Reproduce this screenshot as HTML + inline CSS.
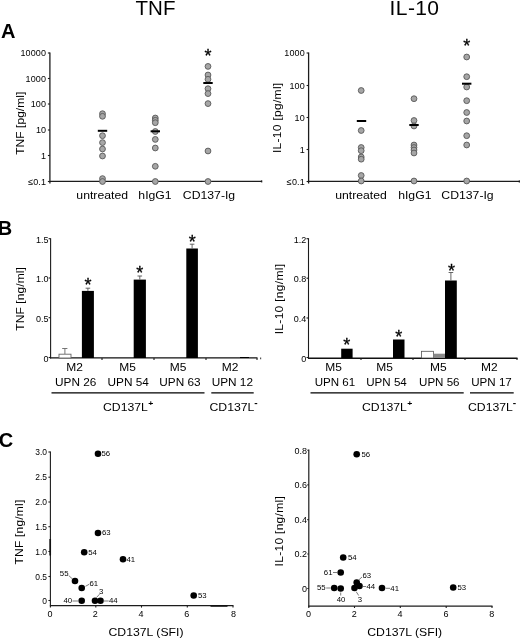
<!DOCTYPE html>
<html><head><meta charset="utf-8"><title>Figure</title>
<style>html,body{margin:0;padding:0;background:#fff;}svg{display:block;will-change:transform;}text{font-family:"Liberation Sans",sans-serif;}</style>
</head><body>
<svg width="520" height="638" viewBox="0 0 520 638">
<rect width="520" height="638" fill="#fff"/>
<text x="155.5" y="15" font-size="20.5" text-anchor="middle" font-weight="normal" fill="#000" >TNF</text>
<text x="414.5" y="15" font-size="21" text-anchor="middle" font-weight="normal" fill="#000" letter-spacing="0.4">IL-10</text>
<text x="0.9" y="38.3" font-size="20" text-anchor="start" font-weight="bold" fill="#000" >A</text>
<text x="-2.3" y="234.9" font-size="20" text-anchor="start" font-weight="bold" fill="#000" >B</text>
<text x="-1.2" y="447.1" font-size="20" text-anchor="start" font-weight="bold" fill="#000" >C</text>
<line x1="49.9" y1="52.5" x2="49.9" y2="183.5" stroke="#1c1c1c" stroke-width="1.3"/>
<line x1="49.9" y1="181.3" x2="262" y2="181.3" stroke="#1c1c1c" stroke-width="1.2"/>
<line x1="261.6" y1="180.4" x2="261.6" y2="182.4" stroke="#1c1c1c" stroke-width="1.4"/>
<line x1="47.9" y1="53" x2="49.9" y2="53" stroke="#1c1c1c" stroke-width="1.1"/>
<text x="46.199999999999996" y="56.4" font-size="9" text-anchor="end" font-weight="normal" fill="#000" letter-spacing="0.15">10000</text>
<line x1="47.9" y1="78.5" x2="49.9" y2="78.5" stroke="#1c1c1c" stroke-width="1.1"/>
<text x="46.199999999999996" y="81.9" font-size="9" text-anchor="end" font-weight="normal" fill="#000" letter-spacing="0.15">1000</text>
<line x1="47.9" y1="104" x2="49.9" y2="104" stroke="#1c1c1c" stroke-width="1.1"/>
<text x="46.199999999999996" y="107.4" font-size="9" text-anchor="end" font-weight="normal" fill="#000" letter-spacing="0.15">100</text>
<line x1="47.9" y1="130" x2="49.9" y2="130" stroke="#1c1c1c" stroke-width="1.1"/>
<text x="46.199999999999996" y="133.4" font-size="9" text-anchor="end" font-weight="normal" fill="#000" letter-spacing="0.15">10</text>
<line x1="47.9" y1="155.5" x2="49.9" y2="155.5" stroke="#1c1c1c" stroke-width="1.1"/>
<text x="46.199999999999996" y="158.9" font-size="9" text-anchor="end" font-weight="normal" fill="#000" letter-spacing="0.15">1</text>
<line x1="47.9" y1="181.5" x2="49.9" y2="181.5" stroke="#1c1c1c" stroke-width="1.1"/>
<text x="46.199999999999996" y="184.9" font-size="9" text-anchor="end" font-weight="normal" fill="#000" letter-spacing="0.15">≤0.1</text>
<text transform="translate(23.9,123.2) rotate(-90) scale(1,0.9)" font-size="12" letter-spacing="0.05" text-anchor="middle" fill="#000">TNF [pg/ml]</text>
<circle cx="102.5" cy="113.7" r="2.9" fill="#a6a6a6" stroke="#585858" stroke-width="0.9"/>
<circle cx="102.5" cy="116.3" r="2.9" fill="#a6a6a6" stroke="#585858" stroke-width="0.9"/>
<circle cx="102.5" cy="135.7" r="2.9" fill="#a6a6a6" stroke="#585858" stroke-width="0.9"/>
<circle cx="102.5" cy="142.6" r="2.9" fill="#a6a6a6" stroke="#585858" stroke-width="0.9"/>
<circle cx="102.5" cy="149" r="2.9" fill="#a6a6a6" stroke="#585858" stroke-width="0.9"/>
<circle cx="102.5" cy="156" r="2.9" fill="#a6a6a6" stroke="#585858" stroke-width="0.9"/>
<circle cx="102.5" cy="178.6" r="2.9" fill="#a6a6a6" stroke="#585858" stroke-width="0.9"/>
<circle cx="102.5" cy="181.5" r="2.9" fill="#a6a6a6" stroke="#585858" stroke-width="0.9"/>
<line x1="97.8" y1="130.8" x2="107.2" y2="130.8" stroke="#000" stroke-width="2"/>
<circle cx="155.3" cy="118" r="2.9" fill="#a6a6a6" stroke="#585858" stroke-width="0.9"/>
<circle cx="155.3" cy="120.3" r="2.9" fill="#a6a6a6" stroke="#585858" stroke-width="0.9"/>
<circle cx="155.3" cy="122.7" r="2.9" fill="#a6a6a6" stroke="#585858" stroke-width="0.9"/>
<circle cx="155.3" cy="131.5" r="2.9" fill="#a6a6a6" stroke="#585858" stroke-width="0.9"/>
<circle cx="155.3" cy="139.4" r="2.9" fill="#a6a6a6" stroke="#585858" stroke-width="0.9"/>
<circle cx="155.3" cy="148" r="2.9" fill="#a6a6a6" stroke="#585858" stroke-width="0.9"/>
<circle cx="155.3" cy="166.3" r="2.9" fill="#a6a6a6" stroke="#585858" stroke-width="0.9"/>
<circle cx="155.3" cy="181.5" r="2.9" fill="#a6a6a6" stroke="#585858" stroke-width="0.9"/>
<line x1="150.60000000000002" y1="131.3" x2="160.0" y2="131.3" stroke="#000" stroke-width="2"/>
<circle cx="208" cy="66.4" r="2.9" fill="#a6a6a6" stroke="#585858" stroke-width="0.9"/>
<circle cx="208" cy="75" r="2.9" fill="#a6a6a6" stroke="#585858" stroke-width="0.9"/>
<circle cx="208" cy="79.3" r="2.9" fill="#a6a6a6" stroke="#585858" stroke-width="0.9"/>
<circle cx="208" cy="88.7" r="2.9" fill="#a6a6a6" stroke="#585858" stroke-width="0.9"/>
<circle cx="208" cy="93.6" r="2.9" fill="#a6a6a6" stroke="#585858" stroke-width="0.9"/>
<circle cx="208" cy="103.6" r="2.9" fill="#a6a6a6" stroke="#585858" stroke-width="0.9"/>
<circle cx="208" cy="151" r="2.9" fill="#a6a6a6" stroke="#585858" stroke-width="0.9"/>
<circle cx="208" cy="181.5" r="2.9" fill="#a6a6a6" stroke="#585858" stroke-width="0.9"/>
<line x1="203.3" y1="83" x2="212.7" y2="83" stroke="#000" stroke-width="2"/>
<text x="208.1" y="61.56" font-size="18" text-anchor="middle" font-weight="normal" fill="#000" stroke="#000" stroke-width="0.3">*</text>
<text transform="translate(102.2,198.7) scale(1.02,0.92)" font-size="12" text-anchor="middle" font-weight="normal" fill="#000" >untreated</text>
<text transform="translate(155,198.7) scale(1.02,0.92)" font-size="12" text-anchor="middle" font-weight="normal" fill="#000" >hIgG1</text>
<text transform="translate(209,198.7) scale(1.02,0.92)" font-size="12" text-anchor="middle" font-weight="normal" fill="#000" >CD137-Ig</text>
<line x1="308.6" y1="52.5" x2="308.6" y2="183.5" stroke="#1c1c1c" stroke-width="1.3"/>
<line x1="308.6" y1="181.4" x2="520" y2="181.4" stroke="#1c1c1c" stroke-width="1.2"/>
<line x1="519.4" y1="180.4" x2="519.4" y2="182.4" stroke="#1c1c1c" stroke-width="1.4"/>
<line x1="306.6" y1="53" x2="308.6" y2="53" stroke="#1c1c1c" stroke-width="1.1"/>
<text x="304.90000000000003" y="56.4" font-size="9" text-anchor="end" font-weight="normal" fill="#000" letter-spacing="0.15">1000</text>
<line x1="306.6" y1="85.5" x2="308.6" y2="85.5" stroke="#1c1c1c" stroke-width="1.1"/>
<text x="304.90000000000003" y="88.9" font-size="9" text-anchor="end" font-weight="normal" fill="#000" letter-spacing="0.15">100</text>
<line x1="306.6" y1="117.5" x2="308.6" y2="117.5" stroke="#1c1c1c" stroke-width="1.1"/>
<text x="304.90000000000003" y="120.9" font-size="9" text-anchor="end" font-weight="normal" fill="#000" letter-spacing="0.15">10</text>
<line x1="306.6" y1="149.5" x2="308.6" y2="149.5" stroke="#1c1c1c" stroke-width="1.1"/>
<text x="304.90000000000003" y="152.9" font-size="9" text-anchor="end" font-weight="normal" fill="#000" letter-spacing="0.15">1</text>
<line x1="306.6" y1="181.5" x2="308.6" y2="181.5" stroke="#1c1c1c" stroke-width="1.1"/>
<text x="304.90000000000003" y="184.9" font-size="9" text-anchor="end" font-weight="normal" fill="#000" letter-spacing="0.15">≤0.1</text>
<text transform="translate(281.1,117.8) rotate(-90) scale(1,0.9)" font-size="12" letter-spacing="0.3" text-anchor="middle" fill="#000">IL-10 [pg/ml]</text>
<circle cx="361.2" cy="90.5" r="2.9" fill="#a6a6a6" stroke="#585858" stroke-width="0.9"/>
<circle cx="361.2" cy="130.5" r="2.9" fill="#a6a6a6" stroke="#585858" stroke-width="0.9"/>
<circle cx="361.2" cy="147.5" r="2.9" fill="#a6a6a6" stroke="#585858" stroke-width="0.9"/>
<circle cx="361.2" cy="150.7" r="2.9" fill="#a6a6a6" stroke="#585858" stroke-width="0.9"/>
<circle cx="361.2" cy="157" r="2.9" fill="#a6a6a6" stroke="#585858" stroke-width="0.9"/>
<circle cx="361.2" cy="159.2" r="2.9" fill="#a6a6a6" stroke="#585858" stroke-width="0.9"/>
<circle cx="361.2" cy="175.5" r="2.9" fill="#a6a6a6" stroke="#585858" stroke-width="0.9"/>
<circle cx="361.2" cy="181" r="2.9" fill="#a6a6a6" stroke="#585858" stroke-width="0.9"/>
<line x1="356.8" y1="121" x2="366.2" y2="121" stroke="#000" stroke-width="2"/>
<circle cx="414" cy="98.7" r="2.9" fill="#a6a6a6" stroke="#585858" stroke-width="0.9"/>
<circle cx="414" cy="120.5" r="2.9" fill="#a6a6a6" stroke="#585858" stroke-width="0.9"/>
<circle cx="414" cy="126" r="2.9" fill="#a6a6a6" stroke="#585858" stroke-width="0.9"/>
<circle cx="414" cy="145" r="2.9" fill="#a6a6a6" stroke="#585858" stroke-width="0.9"/>
<circle cx="414" cy="147.5" r="2.9" fill="#a6a6a6" stroke="#585858" stroke-width="0.9"/>
<circle cx="414" cy="150" r="2.9" fill="#a6a6a6" stroke="#585858" stroke-width="0.9"/>
<circle cx="414" cy="153" r="2.9" fill="#a6a6a6" stroke="#585858" stroke-width="0.9"/>
<circle cx="414" cy="181" r="2.9" fill="#a6a6a6" stroke="#585858" stroke-width="0.9"/>
<line x1="409.3" y1="125" x2="418.7" y2="125" stroke="#000" stroke-width="2"/>
<circle cx="466.7" cy="57" r="2.9" fill="#a6a6a6" stroke="#585858" stroke-width="0.9"/>
<circle cx="466.7" cy="76.7" r="2.9" fill="#a6a6a6" stroke="#585858" stroke-width="0.9"/>
<circle cx="466.7" cy="87" r="2.9" fill="#a6a6a6" stroke="#585858" stroke-width="0.9"/>
<circle cx="466.7" cy="100.7" r="2.9" fill="#a6a6a6" stroke="#585858" stroke-width="0.9"/>
<circle cx="466.7" cy="112.5" r="2.9" fill="#a6a6a6" stroke="#585858" stroke-width="0.9"/>
<circle cx="466.7" cy="121" r="2.9" fill="#a6a6a6" stroke="#585858" stroke-width="0.9"/>
<circle cx="466.7" cy="135.7" r="2.9" fill="#a6a6a6" stroke="#585858" stroke-width="0.9"/>
<circle cx="466.7" cy="145" r="2.9" fill="#a6a6a6" stroke="#585858" stroke-width="0.9"/>
<circle cx="466.7" cy="181" r="2.9" fill="#a6a6a6" stroke="#585858" stroke-width="0.9"/>
<line x1="462.0" y1="83.7" x2="471.4" y2="83.7" stroke="#000" stroke-width="2"/>
<text x="466.7" y="52.36" font-size="18" text-anchor="middle" font-weight="normal" fill="#000" stroke="#000" stroke-width="0.3">*</text>
<text transform="translate(361,198.7) scale(1.02,0.92)" font-size="12" text-anchor="middle" font-weight="normal" fill="#000" >untreated</text>
<text transform="translate(414.8,198.7) scale(1.02,0.92)" font-size="12" text-anchor="middle" font-weight="normal" fill="#000" >hIgG1</text>
<text transform="translate(467.5,198.7) scale(1.02,0.92)" font-size="12" text-anchor="middle" font-weight="normal" fill="#000" >CD137-Ig</text>
<line x1="50.6" y1="238.2" x2="50.6" y2="358.5" stroke="#1c1c1c" stroke-width="1.1"/>
<line x1="50.1" y1="357.9" x2="257.5" y2="357.9" stroke="#111" stroke-width="1.4"/>
<line x1="48.6" y1="238.7" x2="50.6" y2="238.7" stroke="#1c1c1c" stroke-width="1.1"/>
<text x="48.4" y="242.7" font-size="9" text-anchor="end" font-weight="normal" fill="#000" >1.5</text>
<line x1="48.6" y1="278" x2="50.6" y2="278" stroke="#1c1c1c" stroke-width="1.1"/>
<text x="48.4" y="282.0" font-size="9" text-anchor="end" font-weight="normal" fill="#000" >1.0</text>
<line x1="48.6" y1="317.7" x2="50.6" y2="317.7" stroke="#1c1c1c" stroke-width="1.1"/>
<text x="48.4" y="321.7" font-size="9" text-anchor="end" font-weight="normal" fill="#000" >0.5</text>
<line x1="48.6" y1="357.5" x2="50.6" y2="357.5" stroke="#1c1c1c" stroke-width="1.1"/>
<text x="48.4" y="361.5" font-size="9" text-anchor="end" font-weight="normal" fill="#000" >0</text>
<text transform="translate(23.7,298.8) rotate(-90) scale(1,0.9)" font-size="12" letter-spacing="0.1" text-anchor="middle" fill="#000">TNF [ng/ml]</text>
<line x1="102" y1="358" x2="102" y2="360" stroke="#1c1c1c" stroke-width="1.1"/>
<line x1="154" y1="358" x2="154" y2="360" stroke="#1c1c1c" stroke-width="1.1"/>
<line x1="206" y1="358" x2="206" y2="360" stroke="#1c1c1c" stroke-width="1.1"/>
<line x1="257" y1="358" x2="257" y2="360" stroke="#1c1c1c" stroke-width="1.1"/>
<rect x="59" y="354.2" width="12" height="3.8" fill="#fff" stroke="#666" stroke-width="0.9"/>
<line x1="64.9" y1="348.5" x2="64.9" y2="354" stroke="#666" stroke-width="0.9"/>
<line x1="62.2" y1="348.5" x2="67.4" y2="348.5" stroke="#666" stroke-width="0.9"/>
<rect x="81.9" y="290.9" width="12" height="67.10000000000002" fill="#000"/>
<line x1="87.9" y1="288.2" x2="87.9" y2="290.9" stroke="#555" stroke-width="0.9"/>
<line x1="85.60000000000001" y1="288.2" x2="90.2" y2="288.2" stroke="#555" stroke-width="0.9"/>
<rect x="133.7" y="279.6" width="12.2" height="78.39999999999998" fill="#000"/>
<line x1="139.79999999999998" y1="276" x2="139.79999999999998" y2="279.6" stroke="#555" stroke-width="0.9"/>
<line x1="137.49999999999997" y1="276" x2="142.1" y2="276" stroke="#555" stroke-width="0.9"/>
<rect x="186.3" y="248.5" width="11.6" height="109.5" fill="#000"/>
<line x1="192.10000000000002" y1="244.2" x2="192.10000000000002" y2="248.5" stroke="#555" stroke-width="0.9"/>
<line x1="189.8" y1="244.2" x2="194.40000000000003" y2="244.2" stroke="#555" stroke-width="0.9"/>
<rect x="240" y="357" width="9" height="1" fill="#000"/>
<line x1="260.6" y1="357.6" x2="260.6" y2="359.2" stroke="#555" stroke-width="1.2"/>
<text x="87.9" y="291.26" font-size="18" text-anchor="middle" font-weight="normal" fill="#000" stroke="#000" stroke-width="0.3">*</text>
<text x="139.8" y="279.46000000000004" font-size="18" text-anchor="middle" font-weight="normal" fill="#000" stroke="#000" stroke-width="0.3">*</text>
<text x="192.2" y="248.36" font-size="18" text-anchor="middle" font-weight="normal" fill="#000" stroke="#000" stroke-width="0.3">*</text>
<text transform="translate(74.7,370.8) scale(1.0,0.92)" font-size="12" text-anchor="middle" font-weight="normal" fill="#000" >M2</text>
<text transform="translate(75.7,385.7) scale(0.985,0.92)" font-size="12" text-anchor="middle" font-weight="normal" fill="#000" >UPN 26</text>
<text transform="translate(127.7,370.8) scale(1.0,0.92)" font-size="12" text-anchor="middle" font-weight="normal" fill="#000" >M5</text>
<text transform="translate(128.2,385.7) scale(0.985,0.92)" font-size="12" text-anchor="middle" font-weight="normal" fill="#000" >UPN 54</text>
<text transform="translate(178.2,370.8) scale(1.0,0.92)" font-size="12" text-anchor="middle" font-weight="normal" fill="#000" >M5</text>
<text transform="translate(180.0,385.7) scale(0.985,0.92)" font-size="12" text-anchor="middle" font-weight="normal" fill="#000" >UPN 63</text>
<text transform="translate(230.1,370.8) scale(1.0,0.92)" font-size="12" text-anchor="middle" font-weight="normal" fill="#000" >M2</text>
<text transform="translate(232.3,385.7) scale(0.985,0.92)" font-size="12" text-anchor="middle" font-weight="normal" fill="#000" >UPN 12</text>
<line x1="51.5" y1="392.8" x2="204.5" y2="392.8" stroke="#000" stroke-width="1.3"/>
<line x1="211.3" y1="392.8" x2="253.7" y2="392.8" stroke="#000" stroke-width="1.3"/>
<text transform="translate(103,411) scale(1.02,0.92)" font-size="12" text-anchor="start" font-weight="normal" fill="#000" >CD137L<tspan dy="-5" dx="0.3" font-size="8.5" font-weight="bold">+</tspan></text>
<text transform="translate(209.5,411) scale(1.02,0.92)" font-size="12" text-anchor="start" font-weight="normal" fill="#000" >CD137L<tspan dy="-5.5" font-size="10" font-weight="bold">-</tspan></text>
<line x1="308.5" y1="238.2" x2="308.5" y2="358.8" stroke="#1c1c1c" stroke-width="1.1"/>
<line x1="308.0" y1="358.3" x2="517.5" y2="358.3" stroke="#111" stroke-width="1.4"/>
<line x1="306.5" y1="238.7" x2="308.5" y2="238.7" stroke="#1c1c1c" stroke-width="1.1"/>
<text x="306.3" y="242.7" font-size="9" text-anchor="end" font-weight="normal" fill="#000" >1.2</text>
<line x1="306.5" y1="278.2" x2="308.5" y2="278.2" stroke="#1c1c1c" stroke-width="1.1"/>
<text x="306.3" y="282.2" font-size="9" text-anchor="end" font-weight="normal" fill="#000" >0.8</text>
<line x1="306.5" y1="318" x2="308.5" y2="318" stroke="#1c1c1c" stroke-width="1.1"/>
<text x="306.3" y="322.0" font-size="9" text-anchor="end" font-weight="normal" fill="#000" >0.4</text>
<line x1="306.5" y1="357.5" x2="308.5" y2="357.5" stroke="#1c1c1c" stroke-width="1.1"/>
<text x="306.3" y="361.5" font-size="9" text-anchor="end" font-weight="normal" fill="#000" >0</text>
<text transform="translate(283,299) rotate(-90) scale(1,0.9)" font-size="12" letter-spacing="0.3" text-anchor="middle" fill="#000">IL-10 [ng/ml]</text>
<line x1="361" y1="358" x2="361" y2="360" stroke="#1c1c1c" stroke-width="1.1"/>
<line x1="413" y1="358" x2="413" y2="360" stroke="#1c1c1c" stroke-width="1.1"/>
<line x1="465" y1="358" x2="465" y2="360" stroke="#1c1c1c" stroke-width="1.1"/>
<line x1="517" y1="358" x2="517" y2="360" stroke="#1c1c1c" stroke-width="1.1"/>
<rect x="341.2" y="348.7" width="11.4" height="9.300000000000011" fill="#000"/>
<rect x="393" y="339.5" width="11.5" height="18.5" fill="#000"/>
<rect x="445" y="280.5" width="11.8" height="77.5" fill="#000"/>
<line x1="450.9" y1="272.5" x2="450.9" y2="280.5" stroke="#555" stroke-width="0.9"/>
<line x1="448.59999999999997" y1="272.5" x2="453.2" y2="272.5" stroke="#555" stroke-width="0.9"/>
<rect x="421.5" y="351.3" width="12" height="6.7" fill="#fff" stroke="#555" stroke-width="0.8"/>
<rect x="433.7" y="353.7" width="11.3" height="4.3" fill="#8a8a8a"/>
<text x="346.7" y="351.36" font-size="18" text-anchor="middle" font-weight="normal" fill="#000" stroke="#000" stroke-width="0.3">*</text>
<text x="398.8" y="342.56" font-size="18" text-anchor="middle" font-weight="normal" fill="#000" stroke="#000" stroke-width="0.3">*</text>
<text x="451.5" y="276.66" font-size="18" text-anchor="middle" font-weight="normal" fill="#000" stroke="#000" stroke-width="0.3">*</text>
<text transform="translate(333.7,370.8) scale(1.0,0.92)" font-size="12" text-anchor="middle" font-weight="normal" fill="#000" >M5</text>
<text transform="translate(334.9,385.7) scale(0.965,0.92)" font-size="12" text-anchor="middle" font-weight="normal" fill="#000" >UPN 61</text>
<text transform="translate(384.6,370.8) scale(1.0,0.92)" font-size="12" text-anchor="middle" font-weight="normal" fill="#000" >M5</text>
<text transform="translate(386.5,385.7) scale(0.965,0.92)" font-size="12" text-anchor="middle" font-weight="normal" fill="#000" >UPN 54</text>
<text transform="translate(438.4,370.8) scale(1.0,0.92)" font-size="12" text-anchor="middle" font-weight="normal" fill="#000" >M5</text>
<text transform="translate(439.3,385.7) scale(0.965,0.92)" font-size="12" text-anchor="middle" font-weight="normal" fill="#000" >UPN 56</text>
<text transform="translate(489.4,370.8) scale(1.0,0.92)" font-size="12" text-anchor="middle" font-weight="normal" fill="#000" >M2</text>
<text transform="translate(491.5,385.7) scale(0.965,0.92)" font-size="12" text-anchor="middle" font-weight="normal" fill="#000" >UPN 17</text>
<line x1="310.5" y1="392.8" x2="463.7" y2="392.8" stroke="#000" stroke-width="1.3"/>
<line x1="470" y1="392.8" x2="513.7" y2="392.8" stroke="#000" stroke-width="1.3"/>
<text transform="translate(362,411) scale(1.02,0.92)" font-size="12" text-anchor="start" font-weight="normal" fill="#000" >CD137L<tspan dy="-5" dx="0.3" font-size="8.5" font-weight="bold">+</tspan></text>
<text transform="translate(468,411) scale(1.02,0.92)" font-size="12" text-anchor="start" font-weight="normal" fill="#000" >CD137L<tspan dy="-5.5" font-size="10" font-weight="bold">-</tspan></text>
<line x1="50.4" y1="451.5" x2="50.4" y2="606.2" stroke="#1c1c1c" stroke-width="1.1"/>
<line x1="49.9" y1="605.7" x2="233.5" y2="605.7" stroke="#1c1c1c" stroke-width="1.2"/>
<line x1="48.4" y1="452" x2="50.4" y2="452" stroke="#1c1c1c" stroke-width="1.1"/>
<text transform="translate(47.0,455.2) scale(0.94,1.03)" font-size="9" text-anchor="end" font-weight="normal" fill="#000" >3.0</text>
<line x1="48.4" y1="477.2" x2="50.4" y2="477.2" stroke="#1c1c1c" stroke-width="1.1"/>
<text transform="translate(47.0,480.4) scale(0.94,1.03)" font-size="9" text-anchor="end" font-weight="normal" fill="#000" >2.5</text>
<line x1="48.4" y1="502" x2="50.4" y2="502" stroke="#1c1c1c" stroke-width="1.1"/>
<text transform="translate(47.0,505.2) scale(0.94,1.03)" font-size="9" text-anchor="end" font-weight="normal" fill="#000" >2.0</text>
<line x1="48.4" y1="526.7" x2="50.4" y2="526.7" stroke="#1c1c1c" stroke-width="1.1"/>
<text transform="translate(47.0,529.9000000000001) scale(0.94,1.03)" font-size="9" text-anchor="end" font-weight="normal" fill="#000" >1.5</text>
<line x1="48.4" y1="551.5" x2="50.4" y2="551.5" stroke="#1c1c1c" stroke-width="1.1"/>
<text transform="translate(47.0,554.7) scale(0.94,1.03)" font-size="9" text-anchor="end" font-weight="normal" fill="#000" >1.0</text>
<line x1="48.4" y1="576.5" x2="50.4" y2="576.5" stroke="#1c1c1c" stroke-width="1.1"/>
<text transform="translate(47.0,579.7) scale(0.94,1.03)" font-size="9" text-anchor="end" font-weight="normal" fill="#000" >0.5</text>
<line x1="48.4" y1="600.5" x2="50.4" y2="600.5" stroke="#1c1c1c" stroke-width="1.1"/>
<text transform="translate(47.0,603.7) scale(0.94,1.03)" font-size="9" text-anchor="end" font-weight="normal" fill="#000" >0</text>
<line x1="50.4" y1="605.7" x2="50.4" y2="607.6" stroke="#1c1c1c" stroke-width="1.1"/>
<text x="49.9" y="616.5" font-size="9" text-anchor="middle" font-weight="normal" fill="#000" >0</text>
<line x1="95.8" y1="605.7" x2="95.8" y2="607.6" stroke="#1c1c1c" stroke-width="1.1"/>
<text x="95.3" y="616.5" font-size="9" text-anchor="middle" font-weight="normal" fill="#000" >2</text>
<line x1="141.5" y1="605.7" x2="141.5" y2="607.6" stroke="#1c1c1c" stroke-width="1.1"/>
<text x="141.0" y="616.5" font-size="9" text-anchor="middle" font-weight="normal" fill="#000" >4</text>
<line x1="187.3" y1="605.7" x2="187.3" y2="607.6" stroke="#1c1c1c" stroke-width="1.1"/>
<text x="186.8" y="616.5" font-size="9" text-anchor="middle" font-weight="normal" fill="#000" >6</text>
<line x1="233" y1="605.7" x2="233" y2="607.6" stroke="#1c1c1c" stroke-width="1.1"/>
<text x="233.4" y="616.5" font-size="9" text-anchor="middle" font-weight="normal" fill="#000" >8</text>
<text transform="translate(23.1,532) rotate(-90) scale(1,0.9)" font-size="12" letter-spacing="0.2" text-anchor="middle" fill="#000">TNF [ng/ml]</text>
<line x1="50.2" y1="539" x2="50.2" y2="555.5" stroke="#111" stroke-width="1.7"/>
<line x1="210.5" y1="605.9" x2="227.5" y2="605.9" stroke="#111" stroke-width="1.7"/>
<text transform="translate(146,636) scale(1.02,0.92)" font-size="12" text-anchor="middle" font-weight="normal" fill="#000" >CD137L (SFI)</text>
<circle cx="98" cy="453.7" r="3.3" fill="#000"/>
<text transform="translate(101.5,456.15) scale(1.15,1.0)" font-size="6.8" text-anchor="start" font-weight="normal" fill="#000" >56</text>
<circle cx="98" cy="533" r="3.3" fill="#000"/>
<text transform="translate(102.0,535.45) scale(1.15,1.0)" font-size="6.8" text-anchor="start" font-weight="normal" fill="#000" >63</text>
<circle cx="84.2" cy="552.2" r="3.3" fill="#000"/>
<text transform="translate(88.2,554.6500000000001) scale(1.15,1.0)" font-size="6.8" text-anchor="start" font-weight="normal" fill="#000" >54</text>
<circle cx="123" cy="559.2" r="3.3" fill="#000"/>
<text transform="translate(126.5,561.6500000000001) scale(1.15,1.0)" font-size="6.8" text-anchor="start" font-weight="normal" fill="#000" >41</text>
<circle cx="75" cy="581" r="3.3" fill="#000"/>
<text transform="translate(68.5,576.45) scale(1.15,1.0)" font-size="6.8" text-anchor="end" font-weight="normal" fill="#000" >55</text>
<line x1="68.7" y1="575.5" x2="72.5" y2="579" stroke="#444" stroke-width="0.7"/>
<circle cx="81.7" cy="588" r="3.3" fill="#000"/>
<text transform="translate(89.5,585.95) scale(1.15,1.0)" font-size="6.8" text-anchor="start" font-weight="normal" fill="#000" >61</text>
<line x1="85.5" y1="586.3" x2="89.3" y2="584.2" stroke="#444" stroke-width="0.7"/>
<circle cx="81.7" cy="600.7" r="3.3" fill="#000"/>
<text transform="translate(72.2,603.45) scale(1.15,1.0)" font-size="6.8" text-anchor="end" font-weight="normal" fill="#000" >40</text>
<line x1="72.5" y1="601" x2="78" y2="601" stroke="#444" stroke-width="0.7"/>
<circle cx="95" cy="600.7" r="3.3" fill="#000"/>
<text transform="translate(99.0,594.45) scale(1.15,1.0)" font-size="6.8" text-anchor="start" font-weight="normal" fill="#000" >3</text>
<line x1="96.5" y1="597.5" x2="99.5" y2="594.2" stroke="#444" stroke-width="0.7"/>
<circle cx="100.5" cy="600.7" r="3.3" fill="#000"/>
<text transform="translate(109.0,603.45) scale(1.15,1.0)" font-size="6.8" text-anchor="start" font-weight="normal" fill="#000" >44</text>
<line x1="104" y1="601" x2="108.7" y2="601" stroke="#444" stroke-width="0.7"/>
<circle cx="193.7" cy="595.5" r="3.3" fill="#000"/>
<text transform="translate(198.0,597.95) scale(1.15,1.0)" font-size="6.8" text-anchor="start" font-weight="normal" fill="#000" >53</text>
<line x1="308.8" y1="449.5" x2="308.8" y2="606.6" stroke="#1c1c1c" stroke-width="1.2"/>
<line x1="308.3" y1="606.1" x2="492.5" y2="606.1" stroke="#1c1c1c" stroke-width="1.3"/>
<line x1="307.3" y1="450.3" x2="308.8" y2="450.3" stroke="#1c1c1c" stroke-width="1.1"/>
<text x="307.0" y="453.5" font-size="9" text-anchor="end" font-weight="normal" fill="#000" >0.8</text>
<line x1="307.3" y1="484.9" x2="308.8" y2="484.9" stroke="#1c1c1c" stroke-width="1.1"/>
<text x="307.0" y="488.09999999999997" font-size="9" text-anchor="end" font-weight="normal" fill="#000" >0.6</text>
<line x1="307.3" y1="519.6" x2="308.8" y2="519.6" stroke="#1c1c1c" stroke-width="1.1"/>
<text x="307.0" y="522.8000000000001" font-size="9" text-anchor="end" font-weight="normal" fill="#000" >0.4</text>
<line x1="307.3" y1="554" x2="308.8" y2="554" stroke="#1c1c1c" stroke-width="1.1"/>
<text x="307.0" y="557.2" font-size="9" text-anchor="end" font-weight="normal" fill="#000" >0.2</text>
<line x1="307.3" y1="588.5" x2="308.8" y2="588.5" stroke="#1c1c1c" stroke-width="1.1"/>
<text x="307.0" y="591.7" font-size="9" text-anchor="end" font-weight="normal" fill="#000" >0</text>
<line x1="308.8" y1="606.1" x2="308.8" y2="608.0" stroke="#1c1c1c" stroke-width="1.1"/>
<text x="308.6" y="616.7" font-size="9" text-anchor="middle" font-weight="normal" fill="#000" >0</text>
<line x1="354.5" y1="606.1" x2="354.5" y2="608.0" stroke="#1c1c1c" stroke-width="1.1"/>
<text x="354.3" y="616.7" font-size="9" text-anchor="middle" font-weight="normal" fill="#000" >2</text>
<line x1="400.3" y1="606.1" x2="400.3" y2="608.0" stroke="#1c1c1c" stroke-width="1.1"/>
<text x="400.1" y="616.7" font-size="9" text-anchor="middle" font-weight="normal" fill="#000" >4</text>
<line x1="446.2" y1="606.1" x2="446.2" y2="608.0" stroke="#1c1c1c" stroke-width="1.1"/>
<text x="446.0" y="616.7" font-size="9" text-anchor="middle" font-weight="normal" fill="#000" >6</text>
<line x1="492" y1="606.1" x2="492" y2="608.0" stroke="#1c1c1c" stroke-width="1.1"/>
<text x="491.8" y="616.7" font-size="9" text-anchor="middle" font-weight="normal" fill="#000" >8</text>
<text transform="translate(283,531.2) rotate(-90) scale(1,0.9)" font-size="12" letter-spacing="0.3" text-anchor="middle" fill="#000">IL-10 [ng/ml]</text>
<text transform="translate(404.7,636) scale(1.02,0.92)" font-size="12" text-anchor="middle" font-weight="normal" fill="#000" >CD137L (SFI)</text>
<circle cx="356.7" cy="454.2" r="3.3" fill="#000"/>
<text transform="translate(361.5,456.65) scale(1.15,1.0)" font-size="6.8" text-anchor="start" font-weight="normal" fill="#000" >56</text>
<circle cx="343.2" cy="557.5" r="3.3" fill="#000"/>
<text transform="translate(348.0,559.95) scale(1.15,1.0)" font-size="6.8" text-anchor="start" font-weight="normal" fill="#000" >54</text>
<circle cx="340.7" cy="572.5" r="3.3" fill="#000"/>
<text transform="translate(332.5,574.95) scale(1.15,1.0)" font-size="6.8" text-anchor="end" font-weight="normal" fill="#000" >61</text>
<line x1="333" y1="572.5" x2="337" y2="572.5" stroke="#444" stroke-width="0.7"/>
<circle cx="356.7" cy="582.5" r="3.3" fill="#000"/>
<text transform="translate(362.5,577.95) scale(1.15,1.0)" font-size="6.8" text-anchor="start" font-weight="normal" fill="#000" >63</text>
<line x1="358.7" y1="580" x2="362" y2="577" stroke="#444" stroke-width="0.7"/>
<circle cx="359.5" cy="586" r="3.3" fill="#000"/>
<text transform="translate(366.5,589.1500000000001) scale(1.15,1.0)" font-size="6.8" text-anchor="start" font-weight="normal" fill="#000" >44</text>
<line x1="363" y1="586.5" x2="366.2" y2="586.5" stroke="#444" stroke-width="0.7"/>
<circle cx="354.5" cy="588" r="3.3" fill="#000"/>
<text transform="translate(360,601.6500000000001) scale(1.15,1.0)" font-size="6.8" text-anchor="middle" font-weight="normal" fill="#000" >3</text>
<line x1="356.2" y1="591.7" x2="358.7" y2="595.5" stroke="#444" stroke-width="0.7"/>
<circle cx="334.2" cy="588" r="3.3" fill="#000"/>
<text transform="translate(325.7,590.45) scale(1.15,1.0)" font-size="6.8" text-anchor="end" font-weight="normal" fill="#000" >55</text>
<line x1="326.2" y1="588" x2="330.7" y2="588" stroke="#444" stroke-width="0.7"/>
<circle cx="340.7" cy="588.5" r="3.3" fill="#000"/>
<text transform="translate(341,601.6500000000001) scale(1.15,1.0)" font-size="6.8" text-anchor="middle" font-weight="normal" fill="#000" >40</text>
<line x1="340.7" y1="592.5" x2="340.7" y2="595.5" stroke="#444" stroke-width="0.7"/>
<circle cx="382" cy="588" r="3.3" fill="#000"/>
<text transform="translate(390.3,590.95) scale(1.15,1.0)" font-size="6.8" text-anchor="start" font-weight="normal" fill="#000" >41</text>
<line x1="385.7" y1="588.3" x2="390" y2="588.3" stroke="#444" stroke-width="0.7"/>
<circle cx="453.2" cy="587.5" r="3.3" fill="#000"/>
<text transform="translate(457.5,589.95) scale(1.15,1.0)" font-size="6.8" text-anchor="start" font-weight="normal" fill="#000" >53</text>
</svg></body></html>
